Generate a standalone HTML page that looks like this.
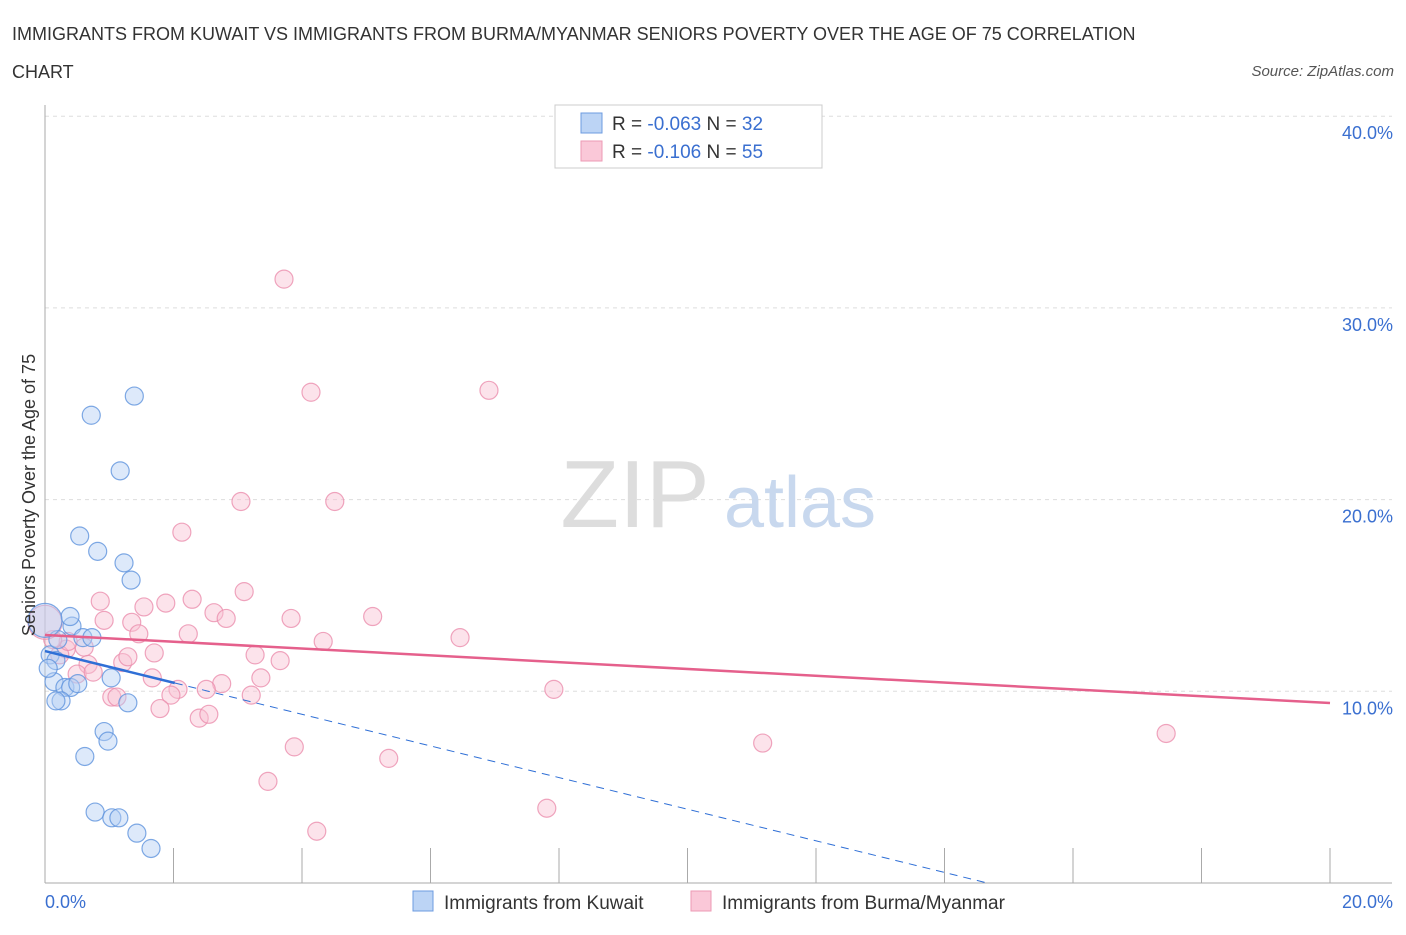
<!DOCTYPE html>
<html><head><meta charset="utf-8"><style>
body{margin:0;background:#fff;font-family:"Liberation Sans",sans-serif;}
svg text{font-family:"Liberation Sans",sans-serif;}
</style></head><body>
<svg width="1406" height="930" xmlns="http://www.w3.org/2000/svg" id="chart">
<text x="12" y="40" font-size="18" fill="#333">IMMIGRANTS FROM KUWAIT VS IMMIGRANTS FROM BURMA/MYANMAR SENIORS POVERTY OVER THE AGE OF 75 CORRELATION</text>
<text x="12" y="78" font-size="18" fill="#333">CHART</text>
<text x="1394" y="76" font-size="15" fill="#555" text-anchor="end" font-style="italic">Source: ZipAtlas.com</text>
<g id="grid"></g>
<g>
<text x="635" y="527" font-size="96" fill="#ddd" text-anchor="middle" font-family="Liberation Serif">ZIP</text>
<text x="800" y="527" font-size="72" fill="#c8d8ee" text-anchor="middle">atlas</text>
</g>
<g id="axes"></g>
<g id="marks"></g>
<text x="35" y="495" font-size="18" fill="#333" text-anchor="middle" transform="rotate(-90 35 495)">Seniors Poverty Over the Age of 75</text>
<text x="45" y="908" font-size="18" fill="#3a6fd0">0.0%</text>
<text x="1393" y="908" font-size="18" fill="#3a6fd0" text-anchor="end">20.0%</text>
<g>
<rect x="555" y="105" width="267" height="63" fill="#fff" stroke="#ccc"/>
<rect x="581" y="113" width="21" height="20" fill="#bcd4f5" stroke="#6c9be0"/>
<rect x="581" y="141" width="21" height="20" fill="#fac8d8" stroke="#ec9ab4"/>
<text x="612" y="130" font-size="19" fill="#333">R = <tspan fill="#3a6fd0">-0.063</tspan>   N = <tspan fill="#3a6fd0">32</tspan></text>
<text x="612" y="158" font-size="19" fill="#333">R =  <tspan fill="#3a6fd0">-0.106</tspan>   N = <tspan fill="#3a6fd0">55</tspan></text>
</g>
<g>
<rect x="413" y="891" width="20" height="20" fill="#bcd4f5" stroke="#6c9be0"/>
<text x="444" y="909" font-size="19" fill="#333">Immigrants from Kuwait</text>
<rect x="691" y="891" width="20" height="20" fill="#fac8d8" stroke="#ec9ab4"/>
<text x="722" y="909" font-size="19" fill="#333">Immigrants from Burma/Myanmar</text>
</g>
</svg>
<script>
const yTicks=[10,20,30,40];
const yTickLabels=["10.0%","20.0%","30.0%","40.0%"];
const xTickVals=[0,2,4,6,8,10,12,14,16,18,20];
const kuwaitX=[1.39,0.72,1.17,0.54,0.82,1.23,1.34,0.42,0.59,0.73,0.08,0.17,0.14,0.31,0.40,0.51,0.25,1.03,1.29,0.92,0.98,0.62,0.78,1.04,1.15,1.43,1.65,0.39,0.2,0.05,0.17,0];
const kuwaitY=[25.4,24.4,21.5,18.1,17.3,16.7,15.8,13.4,12.8,12.8,11.9,11.6,10.5,10.2,10.2,10.4,9.5,10.7,9.4,7.9,7.4,6.6,3.7,3.4,3.4,2.6,1.8,13.9,12.7,11.2,9.5,13.7];
const burmaX=[3.72,4.14,6.91,3.05,4.51,2.13,0.86,1.54,1.88,2.29,3.10,2.63,2.82,3.83,5.10,0.92,1.35,1.46,2.23,4.33,6.46,0.61,0.33,1.70,3.27,3.66,0.67,1.21,1.29,1.67,0.50,0.75,3.36,2.75,2.07,2.51,7.92,3.21,1.04,1.12,1.96,1.79,2.40,2.55,3.88,5.35,11.17,17.45,3.47,7.81,4.23,0.23,0.36,0.12,0];
const burmaY=[31.5,25.6,25.7,19.9,19.9,18.3,14.7,14.4,14.6,14.8,15.2,14.1,13.8,13.8,13.9,13.7,13.6,13.0,13.0,12.6,12.8,12.3,12.2,12.0,11.9,11.6,11.4,11.5,11.8,10.7,10.9,11.0,10.7,10.4,10.1,10.1,10.1,9.8,9.7,9.7,9.8,9.1,8.6,8.8,7.1,6.5,7.3,7.8,5.3,3.9,2.7,11.9,12.6,12.7,13.6];
const kuwaitFit=[12.1,-0.825];
const burmaFit=[12.94,-0.1775];
const X0=45,X1=1330,Y0=883,PY=19.17;
const sx=v=>X0+(v/20)*(X1-X0);
const sy=v=>Y0-v*PY;
const NS="http://www.w3.org/2000/svg";
function mk(t,a,p){const e=document.createElementNS(NS,t);for(const k in a)e.setAttribute(k,a[k]);p.appendChild(e);return e;}
const grid=document.getElementById('grid'),axes=document.getElementById('axes'),marks=document.getElementById('marks');
yTicks.forEach((v,i)=>{
 const l=mk('line',{x1:X0,x2:1392,y1:sy(v),y2:sy(v),stroke:'#ddd','stroke-dasharray':'4,4'},grid);
 
 
 const t=mk('text',{x:1393,y:sy(v)+23,'font-size':18,fill:'#3a6fd0','text-anchor':'end'},axes);
 t.textContent=yTickLabels[i];
 
 
});
const ya=mk('line',{x1:X0,x2:X0,y1:105,y2:Y0,stroke:'#aaa'},axes);


const xa=mk('line',{x1:X0,x2:1392,y1:Y0,y2:Y0,stroke:'#aaa'},axes);


xTickVals.forEach(v=>{
 const t=mk('line',{x1:sx(v),x2:sx(v),y1:Y0-35,y2:Y0,stroke:'#aaa'},axes);
 
 
});
function dots(X,Y,fill,stroke,name){
 X.forEach((x,i)=>{
  const big=(x===0);
  const c=mk('circle',{cx:sx(x),cy:sy(Y[i]),r:big?17:9,fill:fill,'fill-opacity':0.45,stroke:stroke,'stroke-width':1.2,'stroke-opacity':0.8},marks);
  
  
 });
}
dots(burmaX,burmaY,'#f8c0d2','#eb8fae','point-burma');
dots(kuwaitX,kuwaitY,'#b4cff3','#5f93dd','point-kuwait');
const bl=mk('line',{x1:sx(0),y1:sy(burmaFit[0]),x2:sx(20),y2:sy(burmaFit[0]+burmaFit[1]*20),stroke:'#e5608c','stroke-width':2.5},marks);


const kl=mk('line',{x1:sx(0),y1:sy(kuwaitFit[0]),x2:sx(2.02),y2:sy(kuwaitFit[0]+kuwaitFit[1]*2.02),stroke:'#2f6fd6','stroke-width':2.5},marks);


const xEnd=-kuwaitFit[0]/kuwaitFit[1];
const kd=mk('line',{x1:sx(2.02),y1:sy(kuwaitFit[0]+kuwaitFit[1]*2.02),x2:sx(xEnd),y2:sy(0),stroke:'#2f6fd6','stroke-width':1,'stroke-dasharray':'8,6'},marks);


</script>
</body></html>
